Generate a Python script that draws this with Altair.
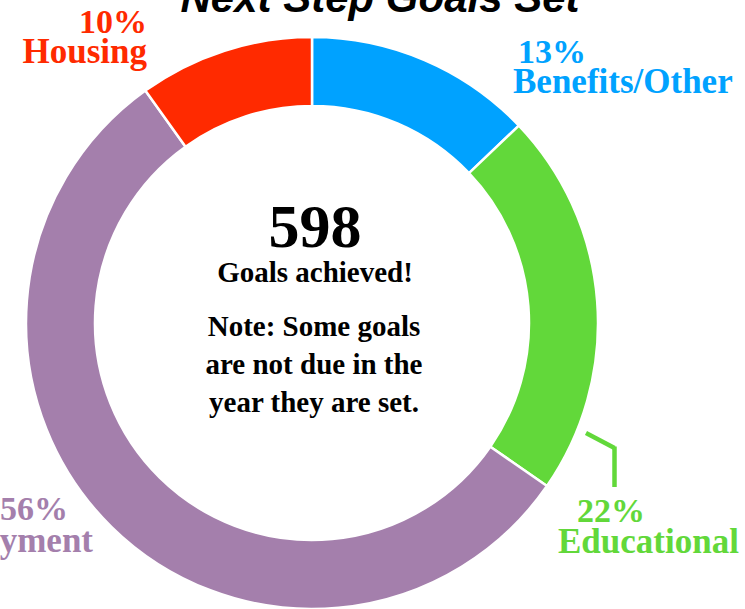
import altair as alt
import pandas as pd

# ---- data ----
categories = ["Benefits/Other", "Educational", "Employment", "Housing"]
percents = [13, 22, 56, 10]
colors = ["#00a2ff", "#62d83a", "#a47fac", "#ff2a00"]
total_achieved = 598
title_text = "Next Step Goals Set"
center_sub = "Goals achieved!"
note_lines = ["Note: Some goals", "are not due in the", "year they are set."]

df = pd.DataFrame({"category": categories, "pct": percents, "order": list(range(len(categories)))})

W, H = 745, 609
CX, CY = 312, 323
SERIF = "Liberation Serif"

arcs = alt.Chart(df).mark_arc(
    innerRadius=217, outerRadius=286, stroke="white", strokeWidth=2.5
).encode(
    theta=alt.Theta("pct:Q", stack=True),
    order=alt.Order("order:Q"),
    color=alt.Color("category:N", scale=alt.Scale(domain=categories, range=colors), legend=None),
    x=alt.value(CX),
    y=alt.value(CY),
)

layers = [arcs]

def txt(s, x, y, size, color="black", align="center", font=SERIF, style="normal"):
    return alt.Chart(pd.DataFrame({"t": [s]})).mark_text(
        font=font, fontSize=size, fontWeight="bold", fontStyle=style,
        align=align, baseline="alphabetic", color=color
    ).encode(text="t:N", x=alt.value(x), y=alt.value(y))

# label layout (annotation placement): (pct x, pct y, name x, name y, align)
label_layout = {
    "Benefits/Other": (518, 63, 513, 93, "left", "left"),
    "Educational": (577, 522, 558, 553, "left", "left"),
    "Employment": (68, 520, 93, 552, "right", "right"),
    "Housing": (147, 33, 147, 63, "right", "right"),
}
for cat, p, col in zip(categories, percents, colors):
    px, py, nx, ny, pa, na = label_layout[cat]
    layers.append(txt(f"{p}%", px, py, 34, col, pa))
    layers.append(txt(cat, nx, ny, 35, col, na))

# leader line for Educational
green = colors[1]
layers.append(alt.Chart(pd.DataFrame({"a": [0]})).mark_rule(color=green, strokeWidth=4.5, strokeCap="butt").encode(
    x=alt.value(586), x2=alt.value(614.5), y=alt.value(433), y2=alt.value(448)))
layers.append(alt.Chart(pd.DataFrame({"a": [0]})).mark_rule(color=green, strokeWidth=4.5, strokeCap="butt").encode(
    x=alt.value(614.5), x2=alt.value(614.5), y=alt.value(446.5), y2=alt.value(487)))

# center text
layers.append(txt(str(total_achieved), 315, 247, 62))
layers.append(txt(center_sub, 315, 282, 29))
for i, line in enumerate(note_lines):
    layers.append(txt(line, 314, 336 + 38 * i, 29))

# title
layers.append(txt(title_text, 380, 12, 42, "black", "center", "Liberation Sans", "italic"))

chart = alt.layer(*layers).properties(
    width=W, height=H, padding=0, autosize="none"
).configure_view(strokeWidth=0)

chart.save("out.html", embed_options={"renderer": "svg", "actions": False})
